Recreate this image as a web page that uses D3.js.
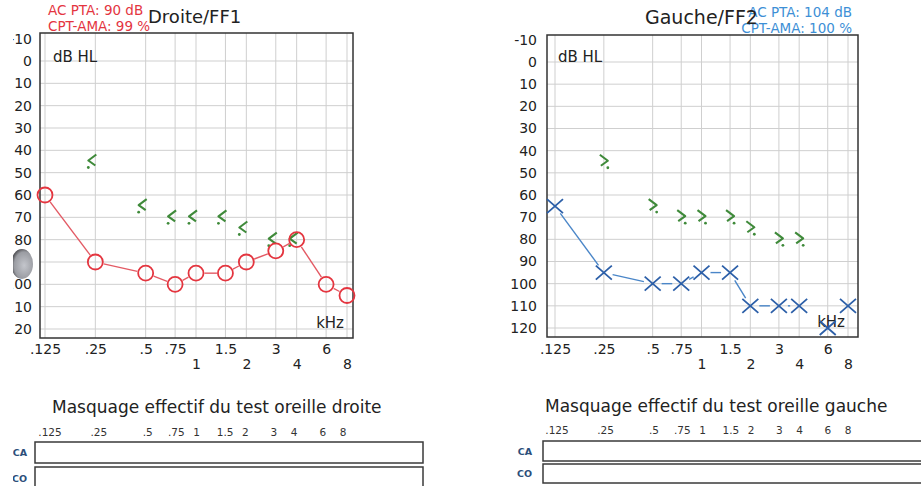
<!DOCTYPE html>
<html>
<head>
<meta charset="utf-8">
<script src="https://cdn.jsdelivr.net/npm/d3@7"></script>
<style>
  body { margin: 0; background: #fff; }
  svg { display: block; }
  text { font-family: "DejaVu Sans", sans-serif; }
</style>
</head>
<body>
<svg id="chart" width="921" height="486"></svg>
<script>
// frequencies (kHz) and their labels
const freqs = [0.125, 0.25, 0.5, 0.75, 1, 1.5, 2, 3, 4, 6, 8];
const freqLabels = [".125", ".25", ".5", ".75", "1", "1.5", "2", "3", "4", "6", "8"];
const lowerRowFreqs = [1, 2, 4, 8];
const dbTicks = [-10, 0, 10, 20, 30, 40, 50, 60, 70, 80, 90, 100, 110, 120];
const gridDb = [0, 10, 20, 30, 40, 50, 60, 70, 80, 90, 100, 110, 120];

// right ear (O) air conduction, 1 = joined to previous point
const rightAC = [60, 90, 95, 100, 95, 95, 90, 85, 80, 100, 105];
const rightJoin = [0, 1, 1, 1, 1, 1, 1, 1, 1, 1, 1];
// left ear (X) air conduction
const leftAC = [65, 95, 100, 100, 95, 95, 110, 110, 110, 120, 110];
const leftJoin = [0, 1, 1, 1, 1, 1, 1, 1, 1, 0, 0];

// masked bone conduction
const bcFreqs = [0.25, 0.5, 0.75, 1, 1.5, 2, 3, 4];
const rightBC = [45, 65, 70, 70, 70, 75, 80, 80];
const leftBC = [45, 65, 70, 70, 70, 75, 80, 80];

const svg = d3.select("#chart");

const panels = [
  {
    title: "Droite/FF1", titleX: 148, titleY: 23, titleSize: 18,
    info: ["AC PTA: 90 dB", "CPT-AMA: 99 %"], infoX: 48, infoY: [15, 31], infoAnchor: "start", infoColor: "#e4353f",
    box: { x0: 40, y0: 33, x1: 353, y1: 338 }, xr: [45, 347], yr: [61, 329], yLabX: 32,
    dbX: 53, khzX: 344, khzY: 328,
    ac: rightAC, join: rightJoin, mark: "O", markColor: "#e4353f", lineColor: "#e35a64",
    bc: rightBC, bcDir: -1,
    mask: { title: "Masquage effectif du test oreille droite", tx: 52, ty: 413, xr: [50, 343], ly: 436,
            x0: 35, x1: 423, ca: [442, 463], co: [467, 490], labX: 27 }
  },
  {
    title: "Gauche/FF2", titleX: 645, titleY: 24, titleSize: 19,
    info: ["AC PTA: 104 dB", "CPT-AMA: 100 %"], infoX: 852, infoY: [17, 33], infoAnchor: "end", infoColor: "#3d8fd6",
    box: { x0: 547, y0: 35, x1: 858, y1: 337 }, xr: [555, 848], yr: [62, 328], yLabX: 537,
    dbX: 558, khzX: 845, khzY: 327,
    ac: leftAC, join: leftJoin, mark: "X", markColor: "#2c5fa8", lineColor: "#4a86c8",
    bc: leftBC, bcDir: 1,
    mask: { title: "Masquage effectif du test oreille gauche", tx: 545, ty: 412, xr: [557, 848], ly: 434,
            x0: 543, x1: 930, ca: [441, 461], co: [464, 483], labX: 532 }
  }
];

panels.forEach(p => {
  const g = svg.append("g");
  const x = d3.scaleLog().base(2).domain([0.125, 8]).range(p.xr);
  const y = d3.scaleLinear().domain([0, 120]).range(p.yr);
  const b = p.box;

  // grid
  g.append("g").selectAll("line.v").data(freqs).join("line")
    .attr("x1", d => x(d)).attr("x2", d => x(d))
    .attr("y1", b.y0).attr("y2", b.y1)
    .attr("stroke", "#cfcfcf").attr("stroke-width", 1);
  g.append("g").selectAll("line.h").data(gridDb).join("line")
    .attr("x1", b.x0).attr("x2", b.x1)
    .attr("y1", d => y(d)).attr("y2", d => y(d))
    .attr("stroke", "#cfcfcf").attr("stroke-width", 1);
  g.append("rect")
    .attr("x", b.x0).attr("y", b.y0)
    .attr("width", b.x1 - b.x0).attr("height", b.y1 - b.y0)
    .attr("fill", "none").attr("stroke", "#333").attr("stroke-width", 1.5);

  // y axis labels
  const yAxis = g.append("g")
    .attr("transform", `translate(${p.yLabX},0)`)
    .call(d3.axisLeft(y).tickValues(dbTicks).tickSize(0).tickPadding(0).tickFormat(d => d));
  yAxis.select(".domain").remove();
  yAxis.selectAll("text").attr("font-size", 14).attr("fill", "#222")
    .attr("font-family", "DejaVu Sans, sans-serif");

  // x axis labels, two rows
  const fmt = d => freqLabels[freqs.indexOf(d)];
  const upper = freqs.filter(f => !lowerRowFreqs.includes(f));
  const xTop = g.append("g").attr("transform", "translate(0,344)")
    .call(d3.axisBottom(x).tickValues(upper).tickSize(0).tickPadding(0).tickFormat(fmt));
  const xBot = g.append("g").attr("transform", "translate(0,359)")
    .call(d3.axisBottom(x).tickValues(lowerRowFreqs).tickSize(0).tickPadding(0).tickFormat(fmt));
  [xTop, xBot].forEach(a => {
    a.select(".domain").remove();
    a.selectAll("text").attr("font-size", 14).attr("fill", "#222")
      .attr("font-family", "DejaVu Sans, sans-serif");
  });

  g.append("text").attr("x", p.dbX).attr("y", 62).attr("font-size", 15).attr("fill", "#222").text("dB HL");
  g.append("text").attr("x", p.khzX).attr("y", p.khzY).attr("text-anchor", "end")
    .attr("font-size", 15).attr("fill", "#222").text("kHz");

  // info + title
  g.selectAll("text.info").data(p.info).join("text")
    .attr("x", p.infoX).attr("y", (d, i) => p.infoY[i])
    .attr("text-anchor", p.infoAnchor).attr("font-size", 13.5).attr("fill", p.infoColor)
    .text(d => d);
  g.append("text").attr("x", p.titleX).attr("y", p.titleY)
    .attr("font-size", p.titleSize).attr("fill", "#222").text(p.title);

  // masked bone conduction symbols
  const s = p.bcDir;
  const bcG = g.append("g").selectAll("g").data(bcFreqs).join("g")
    .attr("transform", (d, i) => `translate(${x(d) + (s < 0 ? -3 : 0)},${y(p.bc[i])})`);
  bcG.append("path")
    .attr("d", `M${-4 * s},-7 L${4 * s},-1 L${-3 * s},4`)
    .attr("fill", "none").attr("stroke", "#3f8a3a").attr("stroke-width", 2.1)
    .attr("stroke-linejoin", "round");
  bcG.append("circle").attr("cx", 4 * s).attr("cy", 6).attr("r", 1.4).attr("fill", "#3f8a3a");

  // air conduction connecting segments, trimmed at the symbols
  const pts = freqs.map((f, i) => [x(f), y(p.ac[i])]);
  const gap = p.mark === "O" ? 8.5 : 9;
  const segs = [];
  pts.forEach((pt, i) => {
    if (i > 0 && p.join[i]) {
      const a = pts[i - 1];
      const dx = pt[0] - a[0], dy = pt[1] - a[1];
      const len = Math.hypot(dx, dy);
      if (len > 2 * gap) {
        const ux = dx / len, uy = dy / len;
        segs.push([a[0] + ux * gap, a[1] + uy * gap, pt[0] - ux * gap, pt[1] - uy * gap]);
      }
    }
  });
  g.append("g").selectAll("line").data(segs).join("line")
    .attr("x1", d => d[0]).attr("y1", d => d[1]).attr("x2", d => d[2]).attr("y2", d => d[3])
    .attr("stroke", p.lineColor).attr("stroke-width", 1.4);

  if (p.mark === "O") {
    g.append("g").selectAll("circle").data(freqs).join("circle")
      .attr("cx", d => x(d)).attr("cy", (d, i) => y(p.ac[i])).attr("r", 7.5)
      .attr("fill", "none").attr("stroke", p.markColor).attr("stroke-width", 1.8);
  } else {
    g.append("g").selectAll("path").data(freqs).join("path")
      .attr("transform", (d, i) => `translate(${x(d)},${y(p.ac[i])})`)
      .attr("d", "M-8,-7 L8,7 M-8,7 L8,-7")
      .attr("stroke", p.markColor).attr("stroke-width", 1.8).attr("fill", "none");
  }

  // masking section
  const m = p.mask;
  const mx = d3.scaleLog().base(2).domain([0.125, 8]).range(m.xr);
  g.append("text").attr("x", m.tx).attr("y", m.ty).attr("font-size", 17).attr("fill", "#222").text(m.title);
  g.append("g").selectAll("text").data(freqs).join("text")
    .attr("x", d => mx(d)).attr("y", m.ly).attr("text-anchor", "middle")
    .attr("font-family", "Liberation Serif, serif").attr("font-size", 10.5).attr("fill", "#333")
    .text(fmt);
  [["CA", m.ca], ["CO", m.co]].forEach(([lab, yy]) => {
    g.append("rect").attr("x", m.x0).attr("y", yy[0])
      .attr("width", m.x1 - m.x0).attr("height", yy[1] - yy[0])
      .attr("fill", "#fff").attr("stroke", "#3a3a3a").attr("stroke-width", 1.5);
    g.append("text").attr("x", m.labX).attr("y", (yy[0] + yy[1]) / 2 + 3.5)
      .attr("text-anchor", "end").attr("font-size", 9.5).attr("font-weight", "bold")
      .attr("fill", "#2b4f7a").text(lab);
  });
});

// cropped left edge of the scan and punch-hole shadow
svg.append("rect").attr("x", 0).attr("y", 0).attr("width", 13).attr("height", 486).attr("fill", "#fff");
const grad = svg.append("defs").append("radialGradient").attr("id", "hole")
  .attr("cx", "60%").attr("cy", "55%").attr("r", "60%");
grad.append("stop").attr("offset", "0%").attr("stop-color", "#c4c6cc");
grad.append("stop").attr("offset", "75%").attr("stop-color", "#9a9ca2");
grad.append("stop").attr("offset", "100%").attr("stop-color", "#4a4a4e");
svg.append("ellipse").attr("cx", 22).attr("cy", 264).attr("rx", 11).attr("ry", 15).attr("fill", "url(#hole)");
svg.append("rect").attr("x", 0).attr("y", 240).attr("width", 13).attr("height", 50).attr("fill", "#fff");
</script>
</body>
</html>
